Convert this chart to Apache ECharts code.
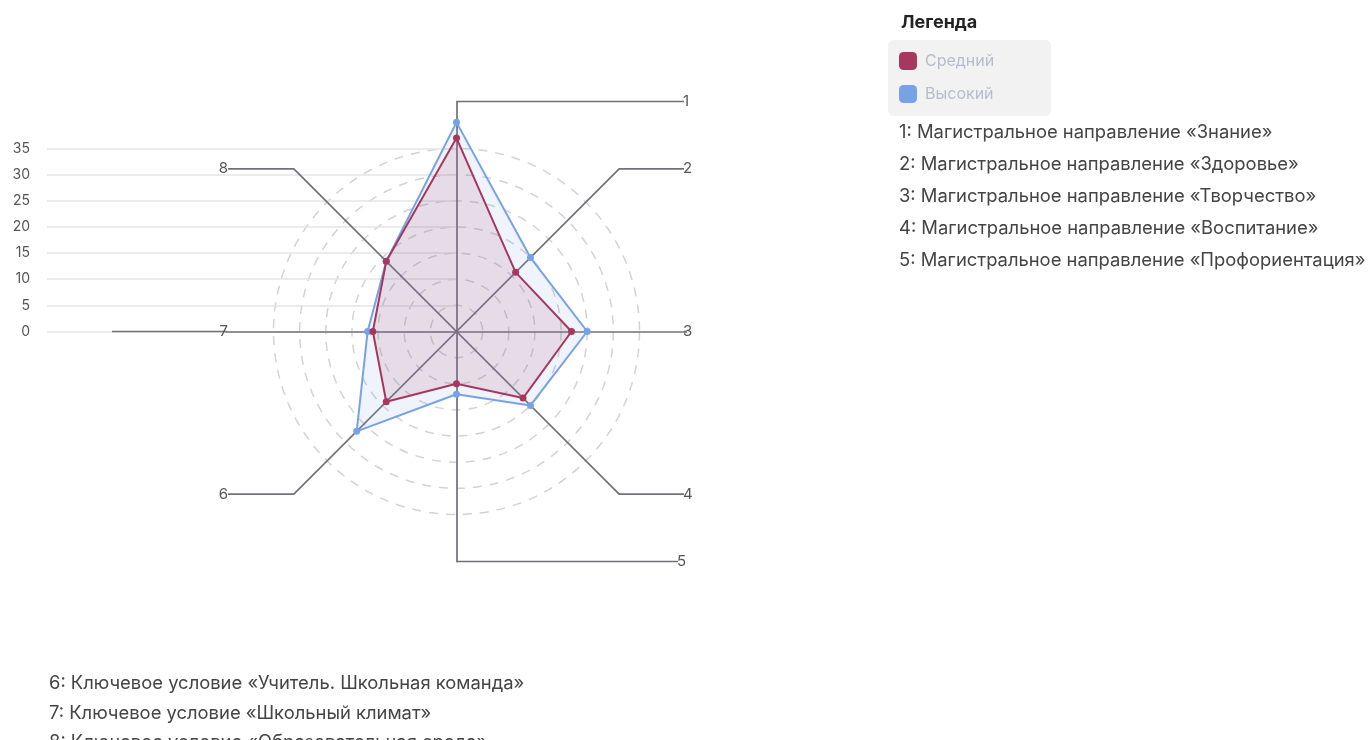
<!DOCTYPE html>
<html><head><meta charset="utf-8">
<script src="https://cdn.jsdelivr.net/npm/echarts@6/dist/echarts.min.js"></script>
<style>html,body{margin:0;padding:0;background:#fff;overflow:hidden}#c{width:1368px;height:740px}</style>
</head><body><div id="c"></div>
<script>
// ---- data ----
const categories = ['1', '2', '3', '4', '5', '6', '7', '8'];
const descriptions = [
  'Магистральное направление «Знание»',
  'Магистральное направление «Здоровье»',
  'Магистральное направление «Творчество»',
  'Магистральное направление «Воспитание»',
  'Магистральное направление «Профориентация»',
  'Ключевое условие «Учитель. Школьная команда»',
  'Ключевое условие «Школьный климат»',
  'Ключевое условие «Образовательная среда»'
];
const seriesNames = ['Средний', 'Высокий'];
const averageValues = [37, 16, 22, 18, 10, 19, 16, 19];
const highValues = [40, 20, 25, 20, 12, 27, 17, 19];
const yTicks = [0, 5, 10, 15, 20, 25, 30, 35];
const legendTitle = 'Легенда';

// ---- layout / style ----
const CX = 456.5, CY = 331.5, R_GRID = 183, R_AXIS = 230;
const FONT = 'Inter';
const RED = '#a6385f', BLUE = '#78a2e6', AXIS_C = '#70707b';
const n = categories.length;
const tickStep = yTicks[1] - yTicks[0];
const scaleMax = yTicks[yTicks.length - 1];

// ECharts radar places indicators counter-clockwise; reorder to get clockwise layout
const order = categories.map((c, k) => (k === 0 ? 0 : n - k));
const reorder = arr => order.map(i => arr[i]);

const leaderRightX = 684, leaderLeftX = 228;
const leaderOverride = { 4: 678, 6: 112 };

const graphics = [];
categories.forEach((c, i) => {
  const a = i * 2 * Math.PI / n;
  const s = Math.sin(a);
  const ex = CX + R_AXIS * s, ey = CY - R_AXIS * Math.cos(a);
  const right = s > -0.01;
  const lx = leaderOverride[i] !== undefined ? leaderOverride[i] : (right ? leaderRightX : leaderLeftX);
  graphics.push({
    type: 'polyline', silent: true, z: 1,
    shape: { points: [[ex, ey], [lx, ey]] },
    style: { stroke: AXIS_C, lineWidth: 1.7, fill: null }
  });
  graphics.push({
    type: 'text', silent: true, z: 5,
    x: right ? lx - 1 : leaderLeftX,
    y: ey,
    style: {
      text: c, fill: '#555', font: '15px ' + FONT,
      align: right ? 'left' : 'right', verticalAlign: 'middle'
    }
  });
});

// legend title and description list
graphics.push({
  type: 'text', silent: true, x: 901, y: 23,
  style: { text: legendTitle, fill: '#222', font: '700 18px ' + FONT, verticalAlign: 'middle' }
});
descriptions.forEach((d, i) => {
  const inRight = i < 5;
  graphics.push({
    type: 'text', silent: true,
    x: inRight ? 899 : 49,
    y: inRight ? 132 + i * 32 : 683.5 + (i - 5) * 29.5,
    style: {
      text: categories[i] + ': ' + d, fill: '#444',
      font: '18.4px ' + FONT, verticalAlign: 'middle'
    }
  });
});

const chart = echarts.init(document.getElementById('c'), null, { renderer: 'canvas' });
chart.setOption({
  backgroundColor: '#fff',
  animation: false,
  textStyle: { fontFamily: FONT },
  legend: {
    data: seriesNames,
    left: 888, top: 40,
    orient: 'vertical',
    backgroundColor: '#f2f2f2',
    borderRadius: 6,
    padding: [12, 57, 13, 11],
    itemGap: 15,
    itemWidth: 18, itemHeight: 18,
    icon: 'roundRect',
    selectedMode: false,
    textStyle: { color: '#b5bdcc', fontSize: 16, fontFamily: FONT, padding: [0, 0, 0, 3] }
  },
  grid: { left: 47, width: CX - 47, top: CY - R_GRID, height: R_GRID, containLabel: false },
  xAxis: { type: 'value', show: false, min: 0, max: 1 },
  yAxis: {
    type: 'value', min: yTicks[0], max: scaleMax, interval: tickStep,
    axisLine: { show: false }, axisTick: { show: false },
    axisLabel: { color: '#555', fontSize: 14, margin: 17, fontFamily: FONT },
    splitLine: { lineStyle: { color: '#e4e4e4', width: 1.5 } }
  },
  radar: [
    {
      center: [CX, CY], radius: R_GRID, startAngle: 90,
      shape: 'circle', splitNumber: scaleMax / tickStep,
      indicator: reorder(categories).map(c => ({ name: c, min: 0, max: scaleMax })),
      axisName: { show: false },
      axisLine: { show: false },
      axisTick: { show: false },
      splitArea: { show: false },
      splitLine: { lineStyle: { color: '#d3d3d3', width: 1.5, type: [9, 8] } }
    },
    {
      center: [CX, CY], radius: R_AXIS, startAngle: 90,
      shape: 'polygon', splitNumber: 1,
      indicator: reorder(categories).map(c => ({ name: c, min: 0, max: 1 })),
      axisName: { show: false },
      axisLine: { lineStyle: { color: AXIS_C, width: 1.7 } },
      axisTick: { show: false },
      splitArea: { show: false },
      splitLine: { show: false }
    }
  ],
  series: [{
    type: 'radar', radarIndex: 0, z: 3,
    symbol: 'circle', symbolSize: 7,
    data: [
      {
        name: seriesNames[1], value: reorder(highValues),
        itemStyle: { color: BLUE },
        lineStyle: { color: BLUE, width: 2 },
        areaStyle: { color: 'rgba(120,162,230,0.17)' }
      },
      {
        name: seriesNames[0], value: reorder(averageValues),
        itemStyle: { color: RED },
        lineStyle: { color: RED, width: 2 },
        areaStyle: { color: 'rgba(166,56,95,0.18)' }
      }
    ]
  }],
  graphic: graphics
});
</script>
</body></html>
